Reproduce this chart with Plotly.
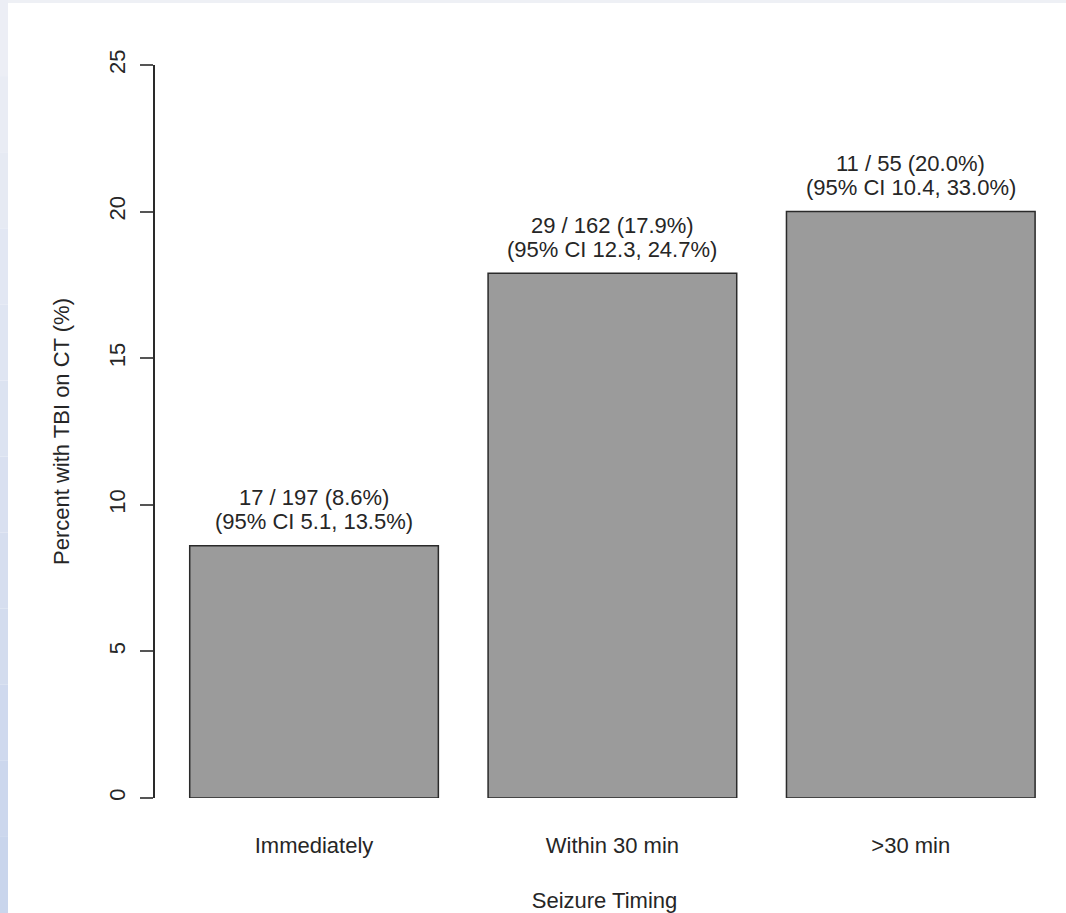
import plotly.graph_objects as go

categories = ["Immediately", "Within 30 min", ">30 min"]
percents = [8.6, 17.9, 20.0]
counts = ["17 / 197", "29 / 162", "11 / 55"]
ci_low = [5.1, 12.3, 10.4]
ci_high = [13.5, 24.7, 33.0]
y_ticks = [0, 5, 10, 15, 20, 25]

W, H = 1066, 913
L, R, T, B = 155, 12, 65, 115
pw, ph = W - L - R, H - T - B
FONT = "Liberation Sans, Arial, sans-serif"
FS = 22

def px_x(p):
    return (p - L) / pw

def px_y(p):
    return (H - B - p) / ph

fig = go.Figure()
fig.add_trace(go.Bar(
    x=categories, y=percents,
    marker=dict(color="#9b9b9b", line=dict(color="#2a2a2a", width=1.5)),
    width=1 / 1.2,
    hoverinfo="skip",
))

line1 = [f"{c} ({p:.1f}%)" for c, p in zip(counts, percents)]
line2 = [f"(95% CI {lo}, {hi}%)" for lo, hi in zip(ci_low, ci_high)]
annotations = []
for cat, p, a, b in zip(categories, percents, line1, line2):
    for txt, sh in ((a, 48), (b, 24)):
        annotations.append(dict(
            x=cat, y=p, xref="x", yref="y", text=txt, showarrow=False,
            yanchor="middle", yshift=sh,
            font=dict(family=FONT, size=FS, color="#262626"),
        ))

shapes = []
n = 12
for i in range(n):
    y0p = i * H / n
    y1p = (i + 1) * H / n
    t = (i + 0.5) / n
    r = int(238 + (200 - 238) * t)
    g = int(240 + (212 - 240) * t)
    b = int(246 + (236 - 246) * t)
    shapes.append(dict(type="rect", xref="paper", yref="paper", layer="below",
                       x0=px_x(0), x1=px_x(8), y0=px_y(y1p), y1=px_y(y0p),
                       fillcolor=f"rgb({r},{g},{b})", line=dict(width=0)))
shapes.append(dict(type="rect", xref="paper", yref="paper", layer="below",
                   x0=px_x(8), x1=px_x(W), y0=px_y(3), y1=px_y(0),
                   fillcolor="#eef0f5", line=dict(width=0)))
shapes.append(dict(type="rect", xref="paper", yref="paper", layer="below",
                   x0=px_x(8), x1=px_x(W), y0=px_y(H), y1=px_y(3),
                   fillcolor="white", line=dict(width=0)))

fig.update_layout(
    width=W, height=H,
    margin=dict(l=L, r=R, t=T, b=B, pad=0, autoexpand=False),
    paper_bgcolor="white",
    plot_bgcolor="rgba(0,0,0,0)",
    showlegend=False,
    bargap=1 - 1 / 1.2,
    font=dict(family=FONT, size=FS, color="#262626"),
    shapes=shapes,
    annotations=annotations,
)
fig.update_xaxes(
    range=[-0.533, 2.48], automargin=False,
    showgrid=False, zeroline=False, showline=False,
    ticks="outside", ticklen=28, tickcolor="rgba(0,0,0,0)",
    tickfont=dict(size=FS),
    title=dict(text="Seizure Timing", font=dict(size=FS), standoff=37),
)
fig.update_yaxes(
    range=[0, 25], automargin=False,
    tickvals=y_ticks, ticktext=[str(v) for v in y_ticks],
    showgrid=False, zeroline=False,
    showline=True, linecolor="#2a2a2a", linewidth=2,
    ticks="outside", ticklen=13, tickcolor="#555555", tickwidth=2,
    tickangle=-90, tickfont=dict(size=FS), ticklabelstandoff=6,
    title=dict(text="Percent with TBI on CT (%)", font=dict(size=FS), standoff=30),
)

fig.write_html("out.html", config={"displayModeBar": False},
               post_script="document.body.style.margin='0';")
